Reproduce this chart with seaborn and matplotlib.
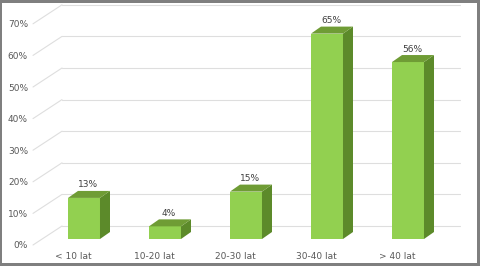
import matplotlib
matplotlib.use("Agg")
import matplotlib.pyplot as plt
import seaborn as sns
import pandas as pd
from matplotlib.patches import Polygon, Rectangle

categories = ["< 10 lat", "10-20 lat", "20-30 lat", "30-40 lat", "> 40 lat"]
values = [13, 4, 15, 65, 56]
ytick_values = [0, 10, 20, 30, 40, 50, 60, 70]
ytick_labels = ["0%", "10%", "20%", "30%", "40%", "50%", "60%", "70%"]

FRONT = "#92d050"
TOP = "#6f9c35"
SIDE = "#5c8a2a"
GRID = "#dedede"
TXT = "#595959"

sns.set_theme(style="white")
plt.rcParams["font.family"] = ["DejaVu Sans"]

W, H = 480, 266
fig = plt.figure(figsize=(4.8, 2.66), dpi=100)
fig.patch.set_facecolor("#7f7f7f")
fig.add_artist(Rectangle((2 / W, 3 / H), 475 / W, 260 / H, transform=fig.transFigure,
                         facecolor="white", edgecolor="none", zorder=0))

# axes in the bar-front plane
L, R = 43.5, 448.5
B, T = 239, 17.8
ax = fig.add_axes([L / W, (H - B) / H, (R - L) / W, (B - T) / H])
ax.patch.set_alpha(0)
ax.set_xlim(-0.5, 4.5)
ax.set_ylim(0, 70)

pxx = 5 / (R - L)      # data units per pixel in x
pxy = 70 / (B - T)     # data units per pixel in y

df = pd.DataFrame({"cat": categories, "val": values})

# gridlines on back wall + diagonals on left wall
bdx, bdy = 20 * pxx, 13 * pxy
fdx, fdy = -9 * pxx, -6 * pxy
x_left = -0.5 + (42 - L) * pxx
x_right = -0.5 + (440 - L) * pxx
for v in ytick_values:
    ax.plot([x_left + bdx, x_right + bdx], [v + bdy, v + bdy], color=GRID, lw=0.8,
            clip_on=False, zorder=0)
    ax.plot([x_left + fdx, x_left + bdx], [v + fdy, v + bdy], color=GRID, lw=0.8,
            clip_on=False, zorder=0)

sns.barplot(data=df, x="cat", y="val", color=FRONT, saturation=1, width=0.395,
            ax=ax, edgecolor="none", zorder=3)

ddx, ddy = 10 * pxx, 7 * pxy
for p, v in zip(ax.patches, values):
    x0 = p.get_x()
    x1 = x0 + p.get_width()
    h = p.get_height()
    ax.add_patch(Polygon([(x1, 0), (x1, h), (x1 + ddx, h + ddy), (x1 + ddx, ddy)],
                         closed=True, facecolor=SIDE, edgecolor="none", zorder=3,
                         clip_on=False))
    ax.add_patch(Polygon([(x0, h), (x1, h), (x1 + ddx, h + ddy), (x0 + ddx, h + ddy)],
                         closed=True, facecolor=TOP, edgecolor="none", zorder=3,
                         clip_on=False))
    ax.text((x0 + x1) / 2 + 4 * pxx, h + ddy + 1.5 * pxy, f"{v}%", ha="center",
            va="bottom", fontsize=6.5, color="#404040", clip_on=False)

# y tick labels in the front plane
for v, lab in zip(ytick_values, ytick_labels):
    ax.text(-0.5 + (28 - L) * pxx, v + fdy - 1 * pxy, lab, ha="right", va="center",
            fontsize=6.5, color=TXT, clip_on=False)

# category labels
for i, c in enumerate(categories):
    ax.text(i - 11 * pxx, -17.5 * pxy, c, ha="center", va="center", fontsize=6.5,
            color=TXT, clip_on=False)

ax.set_xticks([])
ax.set_yticks([])
ax.set_xlabel("")
ax.set_ylabel("")
for s in ax.spines.values():
    s.set_visible(False)

fig.savefig("out.png", dpi=100, facecolor=fig.get_facecolor())
